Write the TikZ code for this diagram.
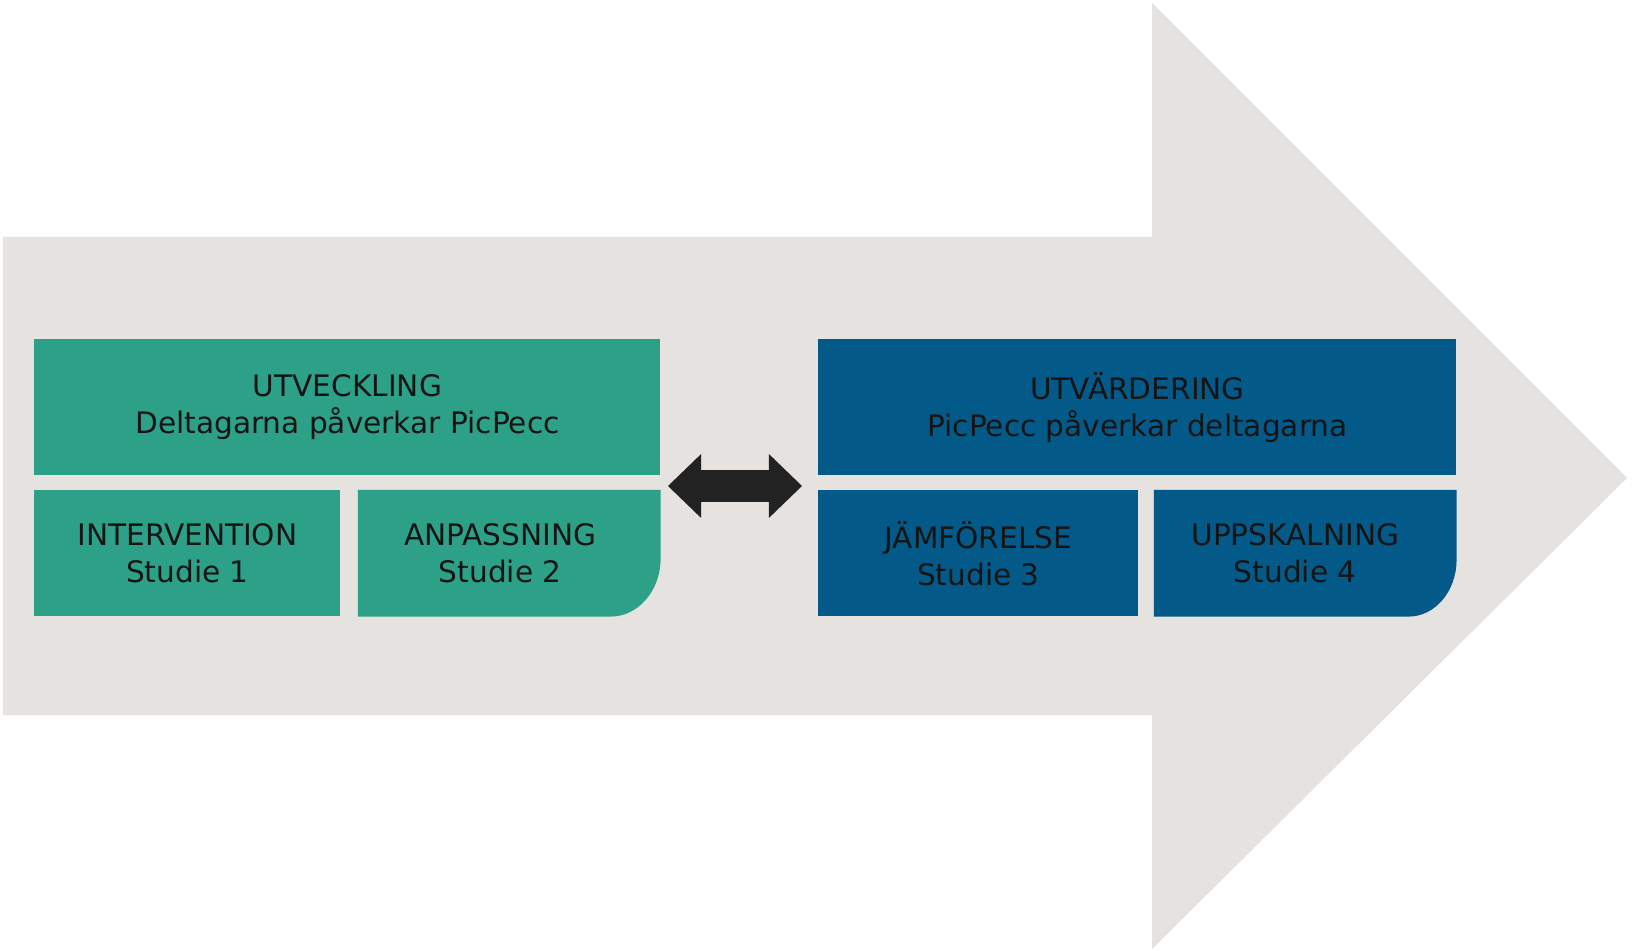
\documentclass[tikz,border=0pt]{standalone}
\usepackage{fontspec}
\setmainfont{DejaVu Sans}
\usepackage{tikz}
\usetikzlibrary{shapes,arrows,positioning}
\definecolor{grGreen}{RGB}{45,161,135}
\definecolor{grBlue}{RGB}{3,90,136}
\definecolor{grGray}{RGB}{230,226,224}
\definecolor{grDark}{RGB}{34,34,34}
\definecolor{grText}{RGB}{20,20,20}
\pgfdeclarelayer{bottom}
\pgfdeclarelayer{background}
\pgfsetlayers{bottom,background,main}
\tikzstyle{blockGR} = [rectangle, fill=grGreen, text=grText, align=center, inner sep=0pt]
\tikzstyle{blockBL} = [rectangle, fill=grBlue, text=grText, align=center, inner sep=0pt]
\tikzstyle{blockTX} = [rectangle, text=grText, align=center, inner sep=0pt]
\tikzstyle{linkDA} = [double arrow, fill=grDark, inner sep=7.75pt, minimum height=67pt, double arrow head extend=8pt, double arrow tip angle=88]

\begin{document}
\begin{tikzpicture}[x=0.5pt, y=-0.5pt,
  % mismo tipo de letra en todo
  font=\fontsize{14.8pt}{18.5pt}\selectfont
  ]
  \useasboundingbox (0,0) rectangle (1632,951);

  % flecha de fondo
  \begin{pgfonlayer}{bottom}
    \fill[white] (0,0) rectangle (1632,951);
    \fill[grGray] (3,237) -- (1152,237) -- (1152,3) -- (1627,478) -- (1152,949) -- (1152,715) -- (3,715) -- cycle;
  \end{pgfonlayer}

  % nodes
  \node [blockGR, minimum width=313pt, minimum height=68pt, anchor=north west] (utv) at (34,339) {UTVECKLING\\Deltagarna påverkar PicPecc};
  \node [blockGR, minimum width=153pt, minimum height=63pt, below right=7pt and 0pt of utv.south west] (interv) {INTERVENTION\\Studie 1};
  \node [blockTX, minimum width=142pt, minimum height=63pt, right=8.5pt of interv] (anpass) {ANPASSNING\\Studie 2};

  \node [blockBL, minimum width=319pt, minimum height=68pt, anchor=north west] (utvard) at (818,339) {UTVÄRDERING\\PicPecc påverkar deltagarna};
  \node [blockBL, minimum width=160pt, minimum height=63pt, below right=7pt and 0pt of utvard.south west] (jamf) {JÄMFÖRELSE\\Studie 3};
  \node [blockTX, minimum width=141pt, minimum height=63pt, right=7.5pt of jamf] (uppsk) {UPPSKALNING\\Studie 4};

  \node [linkDA] (link) at (735,486) {};

  % rundade hörn
  \begin{pgfonlayer}{background}
    \fill[grGreen] (anpass.north west) -- ([xshift=9pt]anpass.north east) -- ([xshift=9pt,yshift=29pt]anpass.south east) arc[start angle=0, end angle=-90, x radius=25pt, y radius=29pt] -- (anpass.south west) -- cycle;
    \fill[grBlue] (uppsk.north west) -- ([xshift=10pt]uppsk.north east) -- ([xshift=10pt,yshift=28.5pt]uppsk.south east) arc[start angle=0, end angle=-90, x radius=24pt, y radius=28.5pt] -- (uppsk.south west) -- cycle;
  \end{pgfonlayer}
\end{tikzpicture}
\end{document}
